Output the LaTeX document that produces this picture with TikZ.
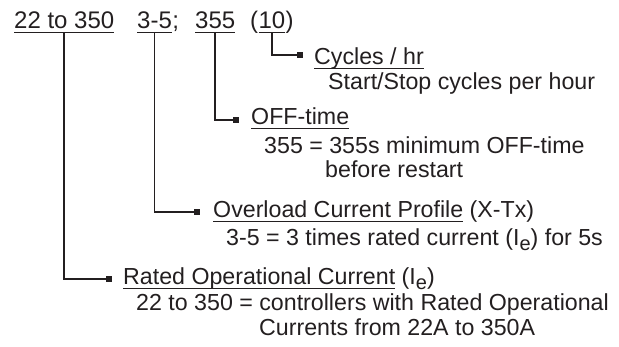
\documentclass[tikz,border=0pt]{standalone}
\usepackage{fontspec}
\setmainfont{Liberation Sans}
\usepackage{xcolor}
\usetikzlibrary{positioning}
\definecolor{ink}{HTML}{231F20}
\newcommand{\ulin}[1]{\setbox0\hbox{#1}\rlap{\rule[-4pt]{\wd0}{1.2pt}}\box0\relax}
\newcommand{\Isub}{(I\raisebox{-5pt}{\fontsize{20}{20}\selectfont e})}
\tikzset{
  every node/.style={
    inner sep=0pt,
    anchor=base west,
    text=ink,
    font=\fontsize{23.2}{28}\selectfont
  },
  codetxt/.style={font=\fontsize{24}{28}\selectfont},
  tip/.style={fill=ink, minimum size=6pt, anchor=center},
  lead/.style={line width=1.5pt, draw=ink}
}

\begin{document}
\begin{tikzpicture}[x=1pt,y=-1pt]
      \useasboundingbox (0,0) rectangle (619,347);
      % code line
      \node[codetxt] (Rng) at (14,29) {\ulin{22 to 350}};
      \node[codetxt] (Ovl) at (137,29) {\ulin{3-5}};
      \node[codetxt] (Semi) at (Ovl.base east) {;};
      \node[codetxt] (Off) at (195,29) {\ulin{355}};
      \node[codetxt] (OpenP) at (250,29) {(};
      \node[codetxt] (Cyc) at (OpenP.base east) {\ulin{10}};
      \node[codetxt] (CloseP) at (Cyc.base east) {)};

      % end marks
      \node[tip] (tCyc) at (300,55) {};
      \node[tip] (tOff) at (236,120) {};
      \node[tip] (tOvl) at (197,212) {};
      \node[tip] (tRng) at (109,279) {};
      \draw[lead] (Cyc.south) |- (tCyc);
      \draw[lead] (Off.south) |- (tOff);
      \draw[lead] (Ovl.south) |- (tOvl);
      \draw[lead] (Rng.south) |- (tRng);

      % explanations
      \node (hCyc) at (314,65) {\ulin{Cycles / hr}};
      \node (dCyc) at (328,90) {Start/Stop cycles per hour};
      \node (hOff) at (251,125) {\ulin{OFF-time}};
      \node (dOff) at (264,154) {355 = 355s minimum OFF-time};
      \node (dOff2) at (325,178) {before restart};
      \node (hOvl) at (213,218) {\ulin{Overload Current Profile} (X-Tx)};
      \node (dOvl) at (226,246) {3-5 = 3 times rated current \Isub{} for 5s};
      \node (hRng) at (123,285) {\ulin{Rated Operational Current} \Isub};
      \node (dRng) at (136,311) {22 to 350 = controllers with Rated Operational};
      \node (dRng2) at (259,336) {Currents from 22A to 350A};
    \end{tikzpicture}
\end{document}
